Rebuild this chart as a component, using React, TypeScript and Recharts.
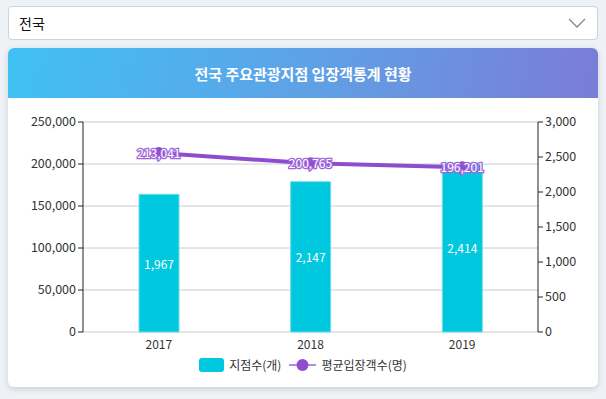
import React from 'react';
import {
  ComposedChart,
  Bar,
  Line,
  XAxis,
  YAxis,
  CartesianGrid,
  Legend,
  LabelList,
} from 'recharts';

const categories = ['2017', '2018', '2019'];
const storeCounts = [1967, 2147, 2414];
const avgVisitors = [213041, 200765, 196201];
const leftTicks = [0, 50000, 100000, 150000, 200000, 250000];
const rightTicks = [0, 500, 1000, 1500, 2000, 2500, 3000];
const boundaryTicks = [0, 1, 2, 3];

const barName = '지점수(개)';
const lineName = '평균입장객수(명)';

const data = categories.map((c, i) => ({
  year: c,
  idx: i + 0.5,
  stores: storeCounts[i],
  visitors: avgVisitors[i],
}));

const FONT = '"Noto Sans CJK KR", "Noto Sans", sans-serif';
const CYAN = '#00c8de';
const PURPLE = '#8e4dce';
const AXIS = '#222';

const fmt = (v: number) => v.toLocaleString('en-US');

const LineLabel = (props: any) => {
  const { x, y, value } = props;
  return (
    <text
      x={x}
      y={y - 1}
      textAnchor="middle"
      dominantBaseline="central"
      fontSize={12}
      fontFamily={FONT}
      fill="#ffffff"
      stroke="#a066da"
      strokeWidth={2.5}
      paintOrder="stroke"
    >
      {fmt(value)}
    </text>
  );
};

const BarLabel = (props: any) => {
  const { x, y, width, height, value } = props;
  return (
    <text
      x={x + width / 2}
      y={y + height / 2}
      textAnchor="middle"
      dominantBaseline="central"
      fontSize={12}
      fontFamily={FONT}
      fill="#ffffff"
    >
      {fmt(value)}
    </text>
  );
};

const LegendContent = () => (
  <div
    style={{
      display: 'flex',
      justifyContent: 'center',
      alignItems: 'center',
      fontFamily: FONT,
      fontSize: 12,
      color: '#333',
      gap: 8,
    }}
  >
    <div style={{ display: 'flex', alignItems: 'center' }}>
      <div style={{ width: 25, height: 14, borderRadius: 3, background: CYAN, marginRight: 5 }} />
      <span>{barName}</span>
    </div>
    <div style={{ display: 'flex', alignItems: 'center' }}>
      <svg width={27} height={14} style={{ marginRight: 5 }}>
        <line x1={0} y1={7} x2={27} y2={7} stroke="#b58be3" strokeWidth={2} />
        <circle cx={13.5} cy={7} r={6} fill={PURPLE} />
      </svg>
      <span>{lineName}</span>
    </div>
  </div>
);

export default function App() {
  return (
    <div
      style={{
        position: 'relative',
        width: 606,
        height: 399,
        background: '#eef2f6',
        overflow: 'hidden',
        fontFamily: FONT,
      }}
    >
      <style>{`body{margin:0}`}</style>
      {/* dropdown */}
      <div
        style={{
          position: 'absolute',
          left: 8,
          top: 6,
          width: 588,
          height: 32,
          background: '#fff',
          border: '1px solid #cfd2d6',
          borderRadius: 4,
        }}
      >
        <span
          style={{
            position: 'absolute',
            left: 10,
            top: 6,
            fontSize: 14,
            color: '#111',
            fontFamily: FONT,
          }}
        >
          전국
        </span>
        <svg
          width={18}
          height={12}
          style={{ position: 'absolute', right: 11, top: 10 }}
        >
          <polyline points="1,2 9,10 17,2" fill="none" stroke="#888" strokeWidth={1.3} />
        </svg>
      </div>
      {/* card */}
      <div
        style={{
          position: 'absolute',
          left: 8,
          top: 48,
          width: 590,
          height: 339,
          background: '#fff',
          borderRadius: 6,
          boxShadow: '0 2px 6px rgba(0,0,0,0.15)',
          overflow: 'hidden',
        }}
      >
        <div
          style={{
            height: 50,
            background: 'linear-gradient(100deg, #3fc1f4 0%, #5ea2e6 50%, #7b7cd5 100%)',
            color: '#fff',
            fontWeight: 700,
            fontSize: 15,
            display: 'flex',
            alignItems: 'center',
            justifyContent: 'center',
            fontFamily: FONT,
          }}
        >
          전국 주요관광지점 입장객통계 현황
        </div>
        <ComposedChart
          width={590}
          height={289}
          data={data}
          margin={{ top: 24, right: 0, bottom: 25, left: 0 }}
          style={{ fontFamily: FONT }}
        >
          <CartesianGrid yAxisId="left" vertical={false} stroke="#cccccc" />
          <XAxis
            xAxisId="ticks"
            type="number"
            dataKey="idx"
            domain={[0, 3]}
            ticks={boundaryTicks}
            tick={false}
            height={0}
            stroke={AXIS}
            axisLine={{ stroke: AXIS }}
            tickLine={{ stroke: AXIS }}
            tickSize={5}
          />
          <XAxis
            xAxisId="cat"
            dataKey="year"
            height={30}
            axisLine={false}
            tickLine={false}
            tick={{ fill: '#333', fontSize: 12 }}
          />
          <YAxis
            yAxisId="left"
            orientation="left"
            width={75}
            domain={[0, 250000]}
            ticks={leftTicks}
            tickFormatter={fmt}
            stroke={AXIS}
            axisLine={{ stroke: AXIS }}
            tickLine={{ stroke: AXIS }}
            tickSize={5}
            tick={{ fill: '#333', fontSize: 12.5 }}
          />
          <YAxis
            yAxisId="right"
            orientation="right"
            width={60}
            domain={[0, 3000]}
            ticks={rightTicks}
            tickFormatter={fmt}
            stroke={AXIS}
            axisLine={{ stroke: AXIS }}
            tickLine={{ stroke: AXIS }}
            tickSize={5}
            tick={{ fill: '#333', fontSize: 12.5 }}
          />
          <Bar
            xAxisId="cat"
            yAxisId="right"
            dataKey="stores"
            name={barName}
            fill={CYAN}
            stroke="#6fdceb"
            strokeWidth={1}
            barSize={40}
            isAnimationActive={false}
          >
            <LabelList dataKey="stores" content={BarLabel} />
          </Bar>
          <Line
            xAxisId="cat"
            yAxisId="left"
            dataKey="visitors"
            name={lineName}
            stroke={PURPLE}
            strokeWidth={4}
            dot={{ r: 6, fill: PURPLE, stroke: PURPLE, strokeWidth: 0 }}
            isAnimationActive={false}
          >
            <LabelList dataKey="visitors" content={LineLabel} />
          </Line>
          <Legend
            verticalAlign="middle"
            layout="horizontal"
            align="center"
            content={LegendContent}
            wrapperStyle={{ top: 258, left: 0, width: 590 }}
          />
        </ComposedChart>
      </div>
    </div>
  );
}
